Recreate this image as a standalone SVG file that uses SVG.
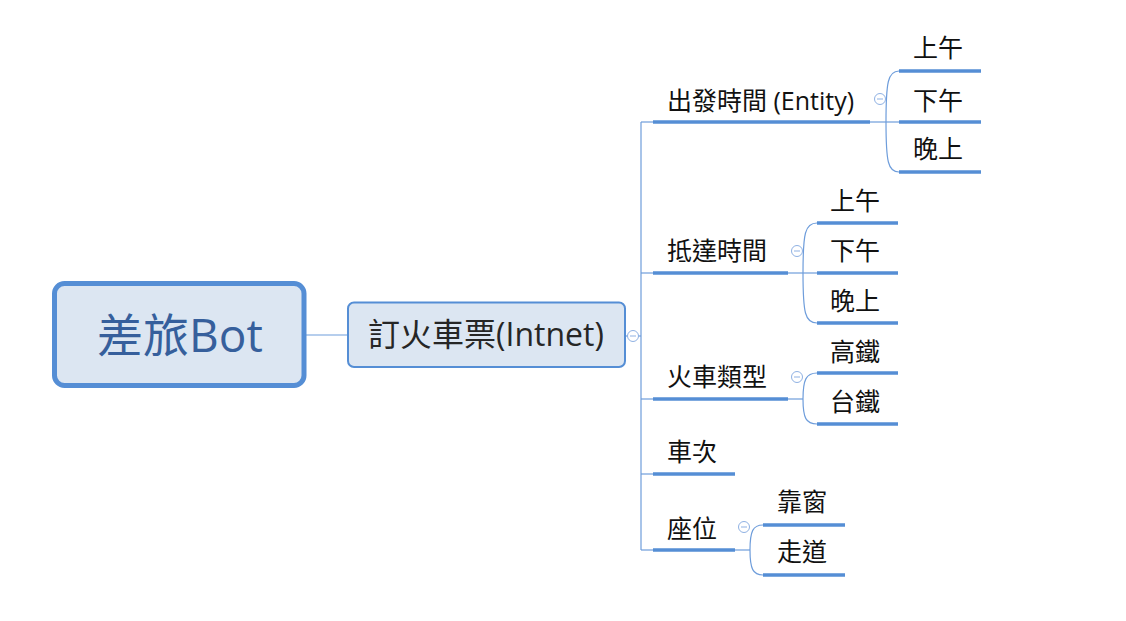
<svg xmlns="http://www.w3.org/2000/svg" width="1126" height="621" viewBox="0 0 1126 621">
<style>
  text { font-family: "Open Sans", "Noto Sans CJK TC", sans-serif; }
  .lbl { font-size: 25px; fill: #111; }
  .ul { stroke: #558ED5; stroke-width: 3.5; fill: none; }
  .cn { stroke: #6E9DDB; stroke-width: 1.2; fill: none; }
  .tg circle { fill: #fff; stroke: #8FB1E3; stroke-width: 1; }
  .tg line { stroke: #8FB1E3; stroke-width: 1; }
</style>
<rect width="1126" height="621" fill="#ffffff"/>
<g id="connectors">
  <line class="cn" x1="306" y1="335" x2="347" y2="335"/>
  <line class="cn" x1="626" y1="336" x2="641" y2="336"/>
  <line class="cn" x1="641" y1="122" x2="641" y2="550"/>
  <line class="cn" x1="641" y1="122" x2="653" y2="122"/>
  <line class="cn" x1="641" y1="273" x2="653" y2="273"/>
  <line class="cn" x1="641" y1="399" x2="653" y2="399"/>
  <line class="cn" x1="641" y1="474" x2="653" y2="474"/>
  <line class="cn" x1="641" y1="550" x2="653" y2="550"/>
  <line class="cn" x1="870" y1="122" x2="899" y2="122"/>
  <path class="cn" d="M886,122 C886,82 888,71 899,71"/>
  <path class="cn" d="M886,122 C886,162 888,172 899,172"/>
  <line class="cn" x1="788" y1="273" x2="817" y2="273"/>
  <path class="cn" d="M803,273 C803,233 805,223 817,223"/>
  <path class="cn" d="M803,273 C803,313 805,323 817,323"/>
  <line class="cn" x1="788" y1="399" x2="803" y2="399"/>
  <path class="cn" d="M803,399 C803,380 806,373 817,373"/>
  <path class="cn" d="M803,399 C803,418 806,424 817,424"/>
  <line class="cn" x1="735" y1="550" x2="750" y2="550"/>
  <path class="cn" d="M750,550 C750,531 753,525 763,525"/>
  <path class="cn" d="M750,550 C750,569 753,575 763,575"/>
</g>
<g id="root">
  <rect x="54.5" y="283.5" width="249.5" height="102" rx="10" fill="#DCE6F2" stroke="#558ED5" stroke-width="5"/>
  <text x="180" y="352" text-anchor="middle" font-size="46" fill="#365F9C">差旅Bot</text>
</g>
<g id="main">
  <rect x="348" y="302.5" width="277" height="64.5" rx="6" fill="#DCE6F2" stroke="#558ED5" stroke-width="2"/>
  <text x="486" y="346" text-anchor="middle" font-size="32" fill="#262626">訂火車票(Intnet)</text>
</g>
<g id="toggles" class="tg">
  <circle cx="633" cy="336" r="5.5"/><line x1="630" y1="336" x2="636" y2="336"/>
  <circle cx="880" cy="99" r="5.5"/><line x1="877" y1="99" x2="883" y2="99"/>
  <circle cx="797" cy="251" r="5.5"/><line x1="794" y1="251" x2="800" y2="251"/>
  <circle cx="797" cy="377" r="5.5"/><line x1="794" y1="377" x2="800" y2="377"/>
  <circle cx="744" cy="527" r="5.5"/><line x1="741" y1="527" x2="747" y2="527"/>
</g>
<g id="b1">
  <line class="ul" x1="653" y1="122" x2="870" y2="122"/>
  <text class="lbl" x="667" y="110">出發時間 (Entity)</text>
</g>
<g id="b1-1"><line class="ul" x1="899" y1="71" x2="981" y2="71"/><text class="lbl" x="913" y="57">上午</text></g>
<g id="b1-2"><line class="ul" x1="899" y1="122" x2="981" y2="122"/><text class="lbl" x="913" y="110">下午</text></g>
<g id="b1-3"><line class="ul" x1="899" y1="172" x2="981" y2="172"/><text class="lbl" x="913" y="158">晚上</text></g>
<g id="b2">
  <line class="ul" x1="653" y1="273" x2="788" y2="273"/>
  <text class="lbl" x="667" y="260">抵達時間</text>
</g>
<g id="b2-1"><line class="ul" x1="817" y1="223" x2="898" y2="223"/><text class="lbl" x="830" y="210">上午</text></g>
<g id="b2-2"><line class="ul" x1="817" y1="273" x2="898" y2="273"/><text class="lbl" x="830" y="260">下午</text></g>
<g id="b2-3"><line class="ul" x1="817" y1="323" x2="898" y2="323"/><text class="lbl" x="830" y="310">晚上</text></g>
<g id="b3">
  <line class="ul" x1="653" y1="399" x2="788" y2="399"/>
  <text class="lbl" x="667" y="386">火車類型</text>
</g>
<g id="b3-1"><line class="ul" x1="817" y1="373" x2="898" y2="373"/><text class="lbl" x="830" y="361">高鐵</text></g>
<g id="b3-2"><line class="ul" x1="817" y1="424" x2="898" y2="424"/><text class="lbl" x="830" y="411">台鐵</text></g>
<g id="b4">
  <line class="ul" x1="653" y1="474" x2="735" y2="474"/>
  <text class="lbl" x="667" y="461">車次</text>
</g>
<g id="b5">
  <line class="ul" x1="653" y1="550" x2="735" y2="550"/>
  <text class="lbl" x="667" y="538">座位</text>
</g>
<g id="b5-1"><line class="ul" x1="763" y1="525" x2="845" y2="525"/><text class="lbl" x="777" y="511">靠窗</text></g>
<g id="b5-2"><line class="ul" x1="763" y1="575" x2="845" y2="575"/><text class="lbl" x="777" y="561">走道</text></g>
</svg>
